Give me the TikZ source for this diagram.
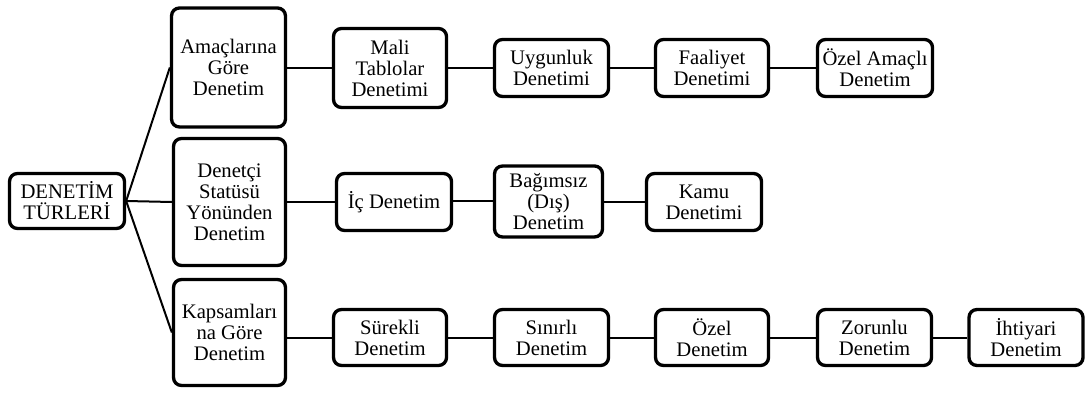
\documentclass[tikz,border=0pt]{standalone}
\usepackage{fontspec}
\setmainfont{Liberation Serif}
\begin{document}
\begin{tikzpicture}[x=0.75pt,y=-0.75pt,
  box/.style={draw=black,line width=2.5pt,rounded corners=6pt,fill=white,
    inner sep=0pt,align=center,font=\fontsize{15.5}{15.8}\selectfont},
  link/.style={draw=black,line width=1.5pt}]
\useasboundingbox (0,0) rectangle (1086,399);
% root and categories
\node[box,minimum width=86.25pt,minimum height=41.25pt] (root) at (67,201) {DENETİM\\TÜRLERİ};
\node[box,minimum width=85.5pt,minimum height=89.25pt] (amac) at (228.5,67.5) {Amaçlarına\\Göre\\Denetim};
\node[box,minimum width=84pt,minimum height=95.25pt] (stat) at (229.5,202) {Denetçi\\Statüsü\\Yönünden\\Denetim};
\node[box,minimum width=84pt,minimum height=79.5pt] (kaps) at (229.5,332.5) {Kapsamları\\na Göre\\Denetim};
% row 1
\node[box,minimum width=84.75pt,minimum height=59.25pt] (mali) at (390,68) {Mali\\Tablolar\\Denetimi};
\node[box,minimum width=85.5pt,minimum height=42.75pt] (uyg) at (551.5,68) {Uygunluk\\Denetimi};
\node[box,minimum width=84.75pt,minimum height=42.75pt] (faal) at (712,68) {Faaliyet\\Denetimi};
\node[box,minimum width=86.25pt,minimum height=42.75pt] (ozam) at (875,68) {Özel Amaçlı\\Denetim};
% row 2
\node[box,minimum width=86.25pt,minimum height=42.75pt] (ic) at (394,202) {İç Denetim};
\node[box,minimum width=81pt,minimum height=53.25pt] (bag) at (548.5,201.5) {Bağımsız\\(Dış)\\Denetim};
\node[box,minimum width=86.25pt,minimum height=42.75pt] (kamu) at (704,202) {Kamu\\Denetimi};
% row 3
\node[box,minimum width=84.75pt,minimum height=42pt] (sur) at (390,337.5) {Sürekli\\Denetim};
\node[box,minimum width=85.5pt,minimum height=42pt] (sin) at (551.5,337.5) {Sınırlı\\Denetim};
\node[box,minimum width=84.75pt,minimum height=42pt] (oz) at (712,337.5) {Özel\\Denetim};
\node[box,minimum width=85.5pt,minimum height=42pt] (zor) at (874.5,337.5) {Zorunlu\\Denetim};
\node[box,minimum width=85.5pt,minimum height=42pt] (iht) at (1026,337.5) {İhtiyari\\Denetim};
% connectors
\draw[link] (root.east) -- (amac.west);
\draw[link] (root.east) -- (stat.west);
\draw[link] (root.east) -- (kaps.west);
\draw[link] (amac.east |- mali.west) -- (mali.west);
\draw[link] (mali.east |- uyg.west) -- (uyg.west);
\draw[link] (uyg.east |- faal.west) -- (faal.west);
\draw[link] (faal.east |- ozam.west) -- (ozam.west);
\draw[link] (stat.east |- ic.west) -- (ic.west);
\draw[link] (ic.east |- bag.west) -- (bag.west);
\draw[link] (bag.east |- kamu.west) -- (kamu.west);
\draw[link] (kaps.east |- sur.west) -- (sur.west);
\draw[link] (sur.east |- sin.west) -- (sin.west);
\draw[link] (sin.east |- oz.west) -- (oz.west);
\draw[link] (oz.east |- zor.west) -- (zor.west);
\draw[link] (zor.east |- iht.west) -- (iht.west);
\end{tikzpicture}
\end{document}
